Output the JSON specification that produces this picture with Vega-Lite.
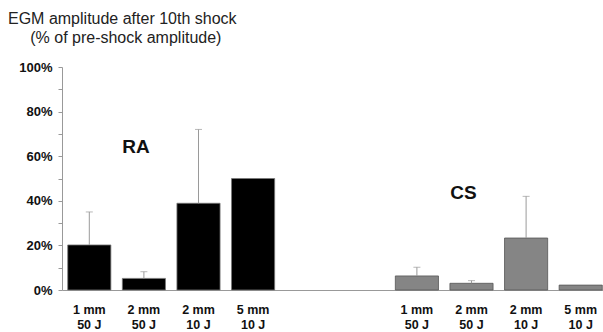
{
  "$schema": "https://vega.github.io/schema/vega-lite/v6.json",
  "width": 541,
  "height": 223,
  "autosize": "none",
  "padding": {"left": 62, "top": 67, "right": 0, "bottom": 42},
  "background": "white",
  "title": {
    "text": ["EGM amplitude after 10th shock", "\u200b\u00a0\u00a0\u00a0\u00a0\u00a0(% of pre-shock amplitude)"],
    "anchor": "start",
    "frame": "group",
    "dx": -54,
    "offset": 15,
    "fontSize": 16,
    "fontWeight": "normal",
    "font": "Liberation Sans",
    "lineHeight": 19,
    "color": "#222"
  },
  "config": {
    "view": {"stroke": null},
    "font": "Liberation Sans",
    "axisX": {
      "title": null,
      "ticks": false,
      "domainColor": "#999",
      "labelFontWeight": "bold",
      "labelFontSize": 12.5,
      "labelColor": "#111",
      "labelPadding": 13,
      "labelLineHeight": 15,
      "labelBaseline": "top",
      "labelAngle": 0,
      "labelExpr": "indexof(datum.value, '|') < 0 ? '' : slice(split(datum.value, '|'), 1)"
    },
    "axisY": {
      "title": null,
      "grid": false,
      "tickColor": "#999",
      "domainColor": "#999",
      "tickSize": 4,
      "labelFontWeight": "bold",
      "labelFontSize": 13,
      "labelColor": "#111",
      "labelPadding": 6
    }
  },
  "data": {
    "values": [
      {"k": "RA|1 mm|50 J", "v": 0.202, "e": 0.35, "g": "RA"},
      {"k": "RA|2 mm|50 J", "v": 0.052, "e": 0.082, "g": "RA"},
      {"k": "RA|2 mm|10 J", "v": 0.389, "e": 0.72, "g": "RA"},
      {"k": "RA|5 mm|10 J", "v": 0.50, "e": null, "g": "RA"},
      {"k": "CS|1 mm|50 J", "v": 0.063, "e": 0.102, "g": "CS"},
      {"k": "CS|2 mm|50 J", "v": 0.03, "e": 0.042, "g": "CS"},
      {"k": "CS|2 mm|10 J", "v": 0.233, "e": 0.42, "g": "CS"},
      {"k": "CS|5 mm|10 J", "v": 0.022, "e": null, "g": "CS"}
    ]
  },
  "encoding": {
    "x": {
      "field": "k",
      "type": "nominal",
      "sort": null,
      "scale": {
        "domain": ["RA|1 mm|50 J", "RA|2 mm|50 J", "RA|2 mm|10 J", "RA|5 mm|10 J", "gap1", "gap2", "CS|1 mm|50 J", "CS|2 mm|50 J", "CS|2 mm|10 J", "CS|5 mm|10 J"],
        "range": [0, 546],
        "paddingInner": 0.21,
        "paddingOuter": 0.105
      }
    }
  },
  "layer": [
    {
      "mark": {"type": "bar", "strokeWidth": 0.8},
      "encoding": {
        "y": {
          "field": "v",
          "type": "quantitative",
          "scale": {"domain": [0, 1], "nice": false},
          "axis": {"values": [0, 0.2, 0.4, 0.6, 0.8, 1], "format": ".0%"}
        },
        "fill": {
          "field": "g",
          "type": "nominal",
          "scale": {"domain": ["RA", "CS"], "range": ["#000000", "#858585"]},
          "legend": null
        },
        "stroke": {
          "field": "g",
          "type": "nominal",
          "scale": {"domain": ["RA", "CS"], "range": ["#777777", "#555555"]},
          "legend": null
        }
      }
    },
    {
      "transform": [{"filter": "isValid(datum.e)"}],
      "mark": {"type": "rule", "color": "#9a9a9a", "strokeWidth": 1},
      "encoding": {
        "y": {
          "field": "v",
          "type": "quantitative",
          "axis": {"values": [0.1, 0.3, 0.5, 0.7, 0.9], "labels": false, "domain": false, "orient": "left"}
        },
        "y2": {"field": "e"}
      }
    },
    {
      "transform": [{"filter": "isValid(datum.e)"}],
      "mark": {"type": "tick", "color": "#9a9a9a", "thickness": 1, "size": 7},
      "encoding": {
        "y": {"field": "e", "type": "quantitative", "axis": null}
      }
    },
    {
      "data": {
        "values": [
          {"k": "RA|2 mm|50 J", "y": 0.64, "t": "RA"},
          {"k": "CS|2 mm|50 J", "y": 0.436, "t": "CS"}
        ]
      },
      "mark": {"type": "text", "dx": -8, "fontSize": 19, "fontWeight": "bold", "color": "#111", "baseline": "middle", "align": "center"},
      "encoding": {
        "y": {"field": "y", "type": "quantitative", "axis": null},
        "text": {"field": "t"}
      }
    }
  ],
  "resolve": {"axis": {"y": "independent"}}
}
